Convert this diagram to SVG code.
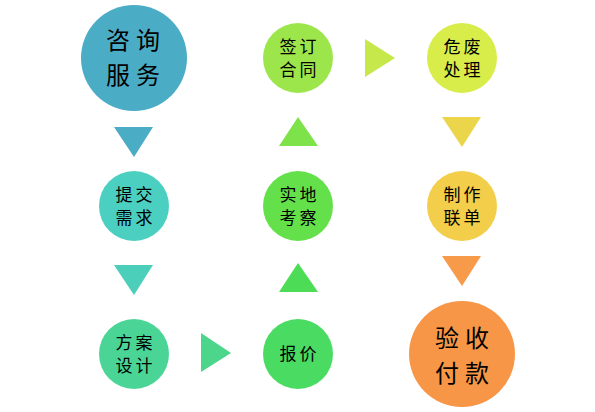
<svg xmlns="http://www.w3.org/2000/svg" width="595" height="412" viewBox="0 0 595 412">
<style>
text{font-family:"Noto Sans CJK SC","Noto Sans CJK JP",sans-serif;fill:#000;text-anchor:middle;dominant-baseline:central}
.s{font-size:17px;letter-spacing:3px}
.b{font-size:24px;letter-spacing:6px}
</style>
<rect width="595" height="412" fill="#fff"/>
<g id="connectors">
<polygon points="114,127 153,127 134,157" fill="#4BACC6"/>
<polygon points="114,265 153,265 134,295" fill="#4BCFBA"/>
<polygon points="201,333 201,372 231,353" fill="#4BD68C"/>
<polygon points="279,292 318,292 298,263" fill="#4CDC55"/>
<polygon points="279,146 318,146 298,117" fill="#7EE24A"/>
<polygon points="365,39 365,77 395,58" fill="#C6E84A"/>
<polygon points="442,117 481,117 462,147" fill="#EBD64B"/>
<polygon points="442,256 481,256 462,286" fill="#F79A4A"/>
</g>
<g id="n1"><circle cx="134" cy="58" r="53" fill="#4BACC6"/><text class="b" x="136" y="38">咨询</text><text class="b" x="136" y="73">服务</text></g>
<g id="n2"><circle cx="134" cy="206" r="35" fill="#4BCFC0"/><text class="s" x="135.5" y="193">提交</text><text class="s" x="135.5" y="216">需求</text></g>
<g id="n3"><circle cx="134" cy="354" r="35" fill="#4AD596"/><text class="s" x="135.5" y="341">方案</text><text class="s" x="135.5" y="364">设计</text></g>
<g id="n4"><circle cx="298" cy="354" r="35" fill="#4ADB62"/><text class="s" x="299.5" y="352">报价</text></g>
<g id="n5"><circle cx="298" cy="206" r="35" fill="#63E04A"/><text class="s" x="299.5" y="193">实地</text><text class="s" x="299.5" y="216">考察</text></g>
<g id="n6"><circle cx="298" cy="58" r="35" fill="#9CE64B"/><text class="s" x="299.5" y="45">签订</text><text class="s" x="299.5" y="68">合同</text></g>
<g id="n7"><circle cx="462" cy="58" r="35" fill="#D8EC4A"/><text class="s" x="463.5" y="45">危废</text><text class="s" x="463.5" y="68">处理</text></g>
<g id="n8"><circle cx="462" cy="206" r="35" fill="#F2CE4A"/><text class="s" x="463.5" y="193">制作</text><text class="s" x="463.5" y="216">联单</text></g>
<g id="n9"><circle cx="462" cy="354" r="53" fill="#F79646"/><text class="b" x="465" y="336">验收</text><text class="b" x="465" y="371">付款</text></g>
</svg>
